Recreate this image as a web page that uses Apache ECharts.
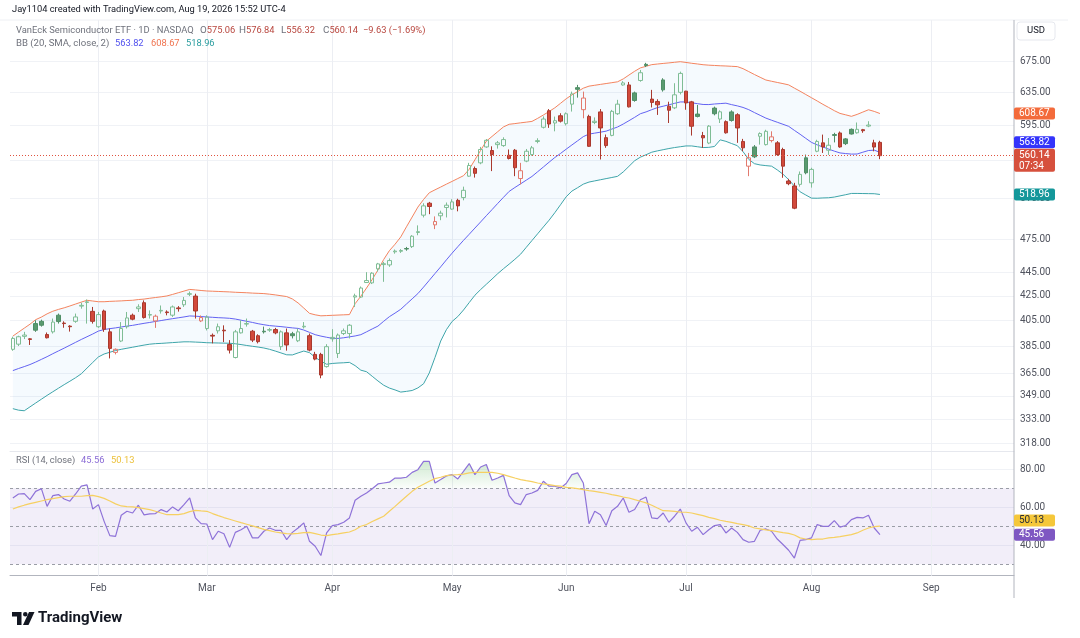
<!DOCTYPE html>
<html lang="en">
  <head>
    <meta charset="UTF-8" />
    <title>VanEck Semiconductor ETF · 1D</title>
    <script src="https://cdn.jsdelivr.net/npm/echarts@6.0.0/dist/echarts.min.js"></script>
    <style>
      html, body { margin: 0; padding: 0; background: #ffffff; }
      #chart { width: 1080px; height: 638px; }
    </style>
  </head>
  <body>
    <div id="chart"></div>
    <script>
      // daily bars, Jan 9 2026 .. Aug 19 2026 (153 sessions)
      const opens = [
        382.5, 386.4, 392.4, 390.5, 402.4, 404.2, 393.8, 395.9, 409.1, 402.8,
        400.4, 404.2, 416.5, 419.5, 412.2, 399.9, 412.5, 395.9, 380.2, 388.8,
        399.9, 409.1, 414.4, 419.3, 409.2, 404.5, 412.5, 411.7, 409.1, 415.0,
        417.6, 426.3, 424.8, 404.5, 398.5, 393.2, 396.7, 397.2, 386.2, 376.4,
        395.1, 402.0, 396.4, 392.9, 396.4, 397.2, 397.7, 384.5, 395.1, 394.4,
        389.0, 399.8, 392.9, 378.7, 378.7, 369.7, 390.5, 379.4, 394.6, 394.6,
        424.0, 424.0, 436.3, 436.0, 448.2, 452.0, 451.7, 463.5, 464.0, 466.5,
        468.3, 481.5, 498.2, 510.1, 488.8, 497.6, 505.8, 504.2, 513.0, 515.8,
        538.0, 546.2, 552.3, 569.9, 565.9, 572.5, 571.4, 560.6, 566.2, 535.5,
        554.2, 561.4, 576.0, 592.4, 612.0, 597.4, 606.0, 596.6, 620.0, 640.5,
        613.3, 605.2, 598.0, 610.6, 580.4, 583.0, 608.4, 643.9, 643.9, 633.9,
        649.6, 670.6, 626.2, 623.3, 650.3, 617.5, 615.5, 634.6, 636.1, 622.8,
        608.0, 582.8, 574.3, 615.2, 602.1, 599.0, 610.6, 607.2, 576.1, 548.7,
        569.9, 582.0, 572.5, 577.1, 574.5, 567.0, 532.9, 527.7, 529.4, 557.8,
        531.0, 565.1, 574.5, 566.2, 583.9, 585.8, 579.0, 590.0, 586.0, 589.6,
        593.8, 574.5, 575.06
      ]
      const highs = [
        392.1, 392.9, 395.9, 391.0, 405.0, 405.5, 395.4, 406.4, 410.4, 404.2,
        401.1, 410.4, 419.3, 422.0, 415.8, 411.7, 413.6, 398.5, 383.2, 403.6,
        411.7, 410.4, 418.0, 421.2, 413.0, 409.6, 417.0, 413.0, 417.0, 416.5,
        424.0, 428.6, 426.8, 408.9, 409.0, 394.6, 402.4, 401.0, 389.5, 397.4,
        405.0, 406.4, 397.4, 394.0, 400.0, 399.0, 399.0, 397.0, 398.5, 395.9,
        398.5, 403.6, 394.6, 380.6, 379.9, 386.4, 398.0, 394.6, 398.5, 402.0,
        426.8, 432.9, 445.3, 445.3, 453.5, 454.4, 457.5, 465.6, 466.0, 468.0,
        479.0, 488.3, 510.0, 511.4, 497.0, 502.6, 510.8, 514.1, 514.6, 527.0,
        552.3, 548.3, 569.9, 578.8, 570.6, 576.6, 580.8, 567.0, 567.6, 552.3,
        567.6, 571.0, 579.7, 605.2, 614.0, 605.0, 609.0, 610.0, 635.5, 644.0,
        635.5, 607.2, 604.0, 614.0, 584.0, 613.0, 625.3, 648.7, 647.7, 635.5,
        663.2, 672.6, 637.7, 626.0, 652.5, 623.0, 646.1, 661.0, 636.5, 624.0,
        619.0, 587.0, 595.0, 617.0, 612.5, 600.5, 612.5, 609.0, 579.0, 563.2,
        572.0, 586.5, 589.5, 587.7, 576.5, 569.0, 535.2, 531.0, 543.0, 561.4,
        547.0, 578.0, 583.9, 580.0, 586.0, 587.5, 580.0, 591.0, 598.0, 590.5,
        599.5, 578.0, 576.84
      ]
      const lows = [
        381.4, 385.0, 390.3, 385.8, 395.9, 400.0, 390.8, 394.6, 402.4, 399.1,
        396.1, 403.0, 414.4, 402.4, 402.4, 399.0, 395.9, 375.7, 378.7, 388.0,
        398.5, 405.0, 411.7, 406.4, 406.4, 399.0, 410.4, 409.0, 407.7, 412.0,
        415.8, 424.8, 406.4, 403.6, 397.0, 387.0, 394.6, 388.0, 379.4, 375.7,
        394.6, 400.0, 388.0, 387.0, 394.6, 395.9, 394.0, 382.0, 381.5, 390.8,
        388.0, 398.5, 381.0, 374.3, 361.3, 369.0, 388.3, 376.0, 393.4, 390.8,
        415.8, 423.4, 436.0, 435.0, 445.8, 436.9, 450.0, 461.8, 462.5, 464.5,
        467.0, 478.9, 496.0, 499.2, 484.7, 493.3, 496.0, 503.5, 502.0, 513.0,
        537.4, 536.5, 550.8, 568.9, 543.4, 568.0, 570.0, 556.0, 538.0, 529.4,
        553.0, 560.0, 574.0, 591.0, 591.7, 587.7, 598.0, 594.5, 611.0, 628.0,
        603.0, 570.0, 596.0, 556.0, 568.9, 582.0, 607.0, 643.0, 616.0, 623.0,
        648.0, 667.0, 616.0, 607.0, 635.5, 597.4, 614.0, 632.0, 613.2, 582.8,
        604.0, 568.9, 573.0, 606.5, 597.4, 585.0, 599.0, 574.5, 565.0, 538.0,
        557.5, 572.5, 571.5, 575.0, 560.0, 536.3, 528.5, 504.1, 527.0, 540.0,
        526.0, 564.0, 563.2, 561.0, 575.0, 569.0, 572.0, 584.0, 585.0, 586.0,
        592.5, 565.0, 556.32
      ]
      const closes = [
        390.8, 392.1, 393.4, 390.0, 397.2, 401.1, 391.3, 403.6, 404.0, 402.4,
        399.9, 407.7, 417.1, 420.0, 404.2, 409.6, 397.9, 383.2, 382.5, 398.5,
        406.9, 405.9, 415.8, 407.2, 409.6, 408.3, 413.0, 411.2, 415.8, 414.4,
        421.2, 426.8, 412.5, 407.2, 407.6, 392.6, 399.9, 396.7, 381.9, 395.9,
        398.5, 402.4, 389.5, 388.3, 395.9, 397.7, 395.1, 395.9, 385.8, 392.9,
        395.9, 400.3, 381.9, 375.2, 363.6, 384.5, 391.6, 393.4, 396.7, 401.1,
        425.0, 431.6, 438.0, 444.4, 452.6, 452.8, 455.6, 464.2, 464.7, 466.1,
        478.0, 482.3, 507.4, 506.8, 492.0, 500.2, 508.1, 511.4, 507.4, 523.2,
        549.4, 541.0, 567.0, 577.4, 561.4, 574.5, 578.2, 557.1, 547.0, 543.8,
        565.1, 568.9, 577.0, 602.1, 596.2, 600.1, 599.6, 608.4, 632.6, 638.4,
        627.5, 570.6, 599.5, 591.6, 571.4, 611.3, 620.0, 646.5, 616.7, 624.5,
        659.6, 669.0, 622.1, 619.2, 637.7, 612.6, 631.5, 658.7, 621.5, 593.6,
        605.2, 580.2, 593.7, 608.4, 610.7, 586.0, 600.4, 591.6, 568.9, 557.8,
        558.9, 585.1, 587.7, 581.3, 561.4, 548.7, 530.1, 505.1, 539.9, 541.6,
        545.2, 576.1, 569.9, 571.8, 583.0, 569.9, 573.6, 584.6, 590.0, 588.4,
        595.0, 569.77, 560.14
      ]

      // Bollinger Bands (20, SMA, close, 2)
      const bbUpper = [
        392.6, 395.7, 398.8, 401.9, 405.5, 407.6, 410.2, 412.3, 413.8, 415.1,
        416.6, 418.2, 419.8, 421.3, 420.7, 420.1, 420.1, 420.4, 420.6, 420.8,
        421.1, 421.3, 421.9, 422.3, 423.0, 423.6, 424.2, 424.9, 426.2, 427.6,
        429.0, 430.4, 430.0, 429.5, 429.1, 428.9, 428.7, 428.5, 428.3, 428.0,
        427.8, 427.6, 427.3, 427.1, 426.9, 426.4, 425.8, 425.1, 424.4, 422.4,
        419.1, 414.9, 410.6, 409.4, 408.6, 408.8, 409.0, 409.2, 409.4, 409.6,
        418.5, 424.7, 431.6, 439.0, 447.2, 456.5, 464.5, 470.5, 477.3, 486.9,
        496.4, 506.2, 513.9, 520.7, 523.7, 526.6, 529.6, 532.5, 535.5, 538.5,
        545.4, 555.6, 566.1, 576.4, 581.8, 587.3, 592.8, 595.9, 596.7, 597.6,
        598.4, 599.3, 602.9, 606.9, 611.1, 615.5, 621.0, 626.6, 631.4, 635.6,
        639.8, 642.4, 643.5, 644.6, 645.7, 646.8, 647.9, 651.6, 656.6, 661.5,
        665.9, 668.0, 670.2, 671.0, 671.8, 672.5, 673.3, 674.1, 673.1, 672.0,
        671.1, 670.1, 669.5, 669.1, 668.7, 668.4, 668.0, 667.6, 664.9, 661.1,
        657.3, 653.7, 650.2, 648.6, 647.1, 645.6, 644.0, 639.9, 636.0, 631.9,
        627.9, 623.9, 619.8, 616.0, 612.1, 608.8, 607.1, 605.3, 607.6, 610.4,
        613.2, 611.2, 608.67
      ]
      const bbBasis = [
        366.8, 368.3, 369.7, 371.2, 373.0, 375.0, 377.0, 379.2, 381.3, 383.4,
        385.6, 387.8, 390.0, 392.1, 394.2, 396.5, 397.7, 398.4, 399.0, 399.7,
        400.4, 401.0, 401.8, 402.6, 403.3, 404.1, 404.8, 405.6, 406.3, 407.0,
        407.7, 408.5, 408.3, 408.0, 407.7, 407.4, 407.1, 406.9, 406.6, 406.0,
        405.1, 404.2, 403.3, 402.3, 401.5, 400.8, 400.4, 400.0, 399.5, 399.0,
        398.6, 397.3, 395.5, 393.7, 392.6, 391.7, 390.9, 390.8, 391.3, 392.0,
        392.7, 393.7, 395.9, 398.2, 400.4, 404.2, 407.9, 410.8, 413.9, 418.2,
        422.5, 426.9, 432.4, 438.2, 444.1, 450.0, 456.2, 462.3, 468.2, 474.1,
        479.8, 485.7, 491.6, 497.7, 503.7, 509.9, 516.0, 522.1, 526.1, 529.9,
        533.8, 537.7, 542.7, 547.8, 553.0, 558.1, 562.6, 567.4, 572.1, 576.8,
        581.6, 584.5, 585.6, 586.7, 587.9, 590.3, 592.7, 596.2, 600.1, 604.1,
        608.4, 610.6, 613.3, 615.8, 617.5, 619.2, 621.0, 622.7, 622.7, 621.7,
        620.6, 619.6, 619.5, 620.2, 620.7, 621.2, 619.4, 617.9, 616.0, 613.3,
        609.8, 606.5, 603.2, 600.7, 598.3, 595.9, 593.5, 588.8, 584.3, 579.6,
        575.0, 572.2, 569.8, 567.5, 565.2, 563.2, 562.5, 561.9, 562.0, 564.0,
        565.9, 566.3, 563.82
      ]
      const bbLower = [
        340.3, 339.3, 338.9, 341.5, 344.1, 346.7, 349.3, 351.8, 354.3, 356.8,
        359.2, 361.7, 364.5, 368.6, 372.7, 376.8, 379.0, 380.3, 381.6, 382.5,
        383.3, 384.1, 384.9, 385.7, 386.4, 386.8, 387.0, 387.3, 387.6, 387.9,
        388.2, 388.2, 388.0, 387.8, 387.5, 387.4, 387.3, 387.2, 387.1, 386.7,
        386.1, 385.4, 384.8, 384.2, 383.5, 382.5, 381.2, 379.8, 378.4, 378.3,
        379.8, 381.2, 380.0, 376.5, 373.7, 371.4, 372.0, 372.3, 372.5, 372.8,
        370.4, 367.1, 366.0, 362.7, 359.4, 356.4, 354.4, 353.1, 351.6, 352.1,
        352.7, 354.5, 357.4, 365.1, 376.4, 388.8, 397.6, 404.1, 408.0, 413.3,
        419.4, 425.5, 430.3, 434.8, 439.3, 444.0, 448.3, 452.4, 456.7, 461.3,
        467.6, 473.9, 480.3, 486.8, 493.3, 500.6, 508.5, 516.6, 522.4, 525.9,
        529.6, 531.8, 533.0, 534.2, 535.4, 536.6, 537.8, 542.5, 548.5, 554.6,
        558.5, 561.2, 564.0, 565.5, 566.8, 568.1, 569.2, 570.1, 571.0, 571.0,
        570.1, 569.2, 569.4, 570.4, 577.9, 576.2, 573.7, 571.3, 564.6, 556.1,
        551.4, 550.0, 549.3, 548.7, 544.7, 540.1, 534.3, 527.6, 521.7, 518.4,
        515.2, 515.1, 515.4, 515.6, 516.3, 517.5, 518.7, 520.0, 520.0, 519.9,
        519.8, 519.7, 518.96
      ]

      // RSI (14, close) and its moving average
      const rsi = [
        64.9, 67.0, 67.2, 64.0, 68.4, 69.8, 60.5, 66.1, 66.7, 64.4,
        63.2, 67.0, 71.1, 71.8, 59.1, 61.4, 52.6, 45.1, 44.7, 55.8,
        57.9, 57.0, 61.1, 56.0, 56.5, 56.7, 58.8, 57.5, 60.2, 58.2,
        61.4, 64.9, 54.4, 51.4, 51.2, 43.0, 47.4, 46.1, 38.9, 46.8,
        48.2, 50.0, 43.9, 43.9, 47.4, 49.1, 47.9, 47.9, 43.0, 46.8,
        49.1, 51.8, 42.1, 39.5, 34.6, 46.5, 50.4, 50.9, 52.1, 54.4,
        63.7, 65.8, 67.5, 69.8, 72.3, 72.8, 73.2, 75.4, 75.4, 75.8,
        78.4, 79.8, 84.2, 84.2, 72.8, 74.6, 76.5, 77.2, 74.9, 78.9,
        83.0, 77.2, 81.2, 82.5, 74.2, 75.4, 76.8, 66.1, 62.3, 61.4,
        66.7, 67.5, 68.9, 73.7, 71.1, 71.1, 70.2, 72.5, 77.2, 78.1,
        72.8, 51.4, 57.9, 56.1, 50.4, 58.2, 60.5, 64.9, 57.4, 58.8,
        64.0, 65.4, 54.4, 54.0, 57.0, 52.1, 55.3, 59.1, 51.8, 47.4,
        49.5, 45.6, 48.2, 50.4, 50.9, 46.5, 49.1, 46.8, 43.0, 41.6,
        42.1, 47.9, 48.6, 47.4, 43.3, 40.4, 37.4, 33.3, 42.6, 43.0,
        43.9, 50.9, 50.0, 50.0, 53.0, 49.6, 50.4, 53.5, 54.7, 54.4,
        55.8, 49.1, 45.56
      ]
      const rsiMa = [
        59.1, 60.2, 61.1, 61.9, 62.6, 63.3, 64.0, 64.6, 65.1, 65.6,
        65.8, 65.8, 65.8, 66.1, 66.3, 65.6, 64.7, 63.3, 61.8, 60.7,
        60.4, 60.2, 59.8, 59.3, 58.8, 57.9, 57.0, 56.1, 56.1, 56.1,
        56.7, 57.7, 58.4, 58.1, 57.9, 56.7, 55.6, 54.6, 53.7, 52.8,
        51.9, 51.1, 50.2, 49.3, 48.4, 47.7, 47.0, 46.5, 46.1, 46.0,
        46.3, 46.7, 46.8, 46.1, 45.4, 45.1, 45.6, 46.0, 46.5, 47.0,
        48.2, 50.0, 50.9, 52.5, 53.9, 55.3, 57.9, 60.5, 63.2, 65.8,
        68.4, 70.5, 72.1, 73.7, 75.1, 75.8, 76.7, 77.0, 77.2, 77.5,
        78.1, 78.4, 78.4, 78.4, 78.4, 77.9, 77.2, 76.3, 75.4, 74.6,
        74.0, 73.5, 72.8, 72.3, 71.9, 71.4, 71.1, 70.5, 70.2, 69.8,
        69.3, 68.8, 68.4, 67.9, 67.4, 66.7, 66.1, 65.4, 64.9, 64.0,
        63.2, 62.3, 61.1, 59.6, 58.2, 58.1, 57.9, 57.5, 57.4, 57.0,
        56.3, 55.6, 54.7, 54.0, 53.2, 52.6, 52.1, 51.4, 50.9, 50.2,
        49.1, 48.6, 48.1, 47.7, 47.2, 46.7, 46.3, 45.4, 43.9, 43.3,
        43.0, 43.2, 43.3, 43.9, 44.2, 44.6, 45.1, 45.6, 46.5, 47.9,
        49.1, 49.8, 50.13
      ]

      // axis ticks
      const priceTicks = [318, 333, 349, 365, 385, 405, 425, 445, 475, 515, 555, 595, 635, 675]
      const rsiTicks = [40, 60, 80]
      const rsiLevels = [70, 50, 30]
      const monthNames = ['Jan', 'Feb', 'Mar', 'Apr', 'May', 'Jun', 'Jul', 'Aug', 'Sep', 'Oct', 'Nov', 'Dec']

      // session calendar: weekdays minus exchange holidays, with empty slots to the right
      const holidays = ['2026-01-19', '2026-02-16', '2026-04-03', '2026-05-25', '2026-06-19', '2026-07-03', '2026-09-07']
      const slots = 176
      const dates = []
      for (let t = Date.UTC(2026, 0, 9); dates.length < slots; t += 86400000) {
        const d = new Date(t)
        const iso = d.toISOString().slice(0, 10)
        if (d.getUTCDay() === 0 || d.getUTCDay() === 6 || holidays.includes(iso)) continue
        dates.push(iso)
      }
      const monthStarts = new Set()
      dates.forEach((d, i) => {
        if (i > 0 && d.slice(5, 7) !== dates[i - 1].slice(5, 7)) monthStarts.add(i)
      })

      const FONT = 'Roboto, "Liberation Sans", sans-serif'
      const GRID_LINE = '#f0f2f6'
      const AXIS_TEXT = '#50535e'
      const last = closes.length - 1

      // hollow candles: body filled when close < open, colour by close vs previous close
      const candleData = closes.map((c, i) => {
        const o = opens[i]
        const rising = i === 0 || c >= closes[i - 1]
        const hollow = c > o
        let fill, edge
        if (rising) {
          edge = hollow ? '#7fbd95' : '#4f8e66'
          fill = hollow ? 'transparent' : '#5a9a70'
        } else {
          edge = hollow ? '#e27a6e' : '#a9392e'
          fill = hollow ? 'transparent' : '#d2493b'
        }
        return {
          value: [o, c, lows[i], highs[i]],
          itemStyle: { color: fill, color0: fill, borderColor: edge, borderColor0: edge },
        }
      })

      const monthLines = [...monthStarts].map(i => ({ xAxis: dates[i] }))

      const chart = echarts.init(document.getElementById('chart'))

      const option = {
        animation: false,
        backgroundColor: '#ffffff',
        grid: [
          { left: 10, right: 66, top: 20, height: 431 },
          { left: 10, right: 66, top: 452, height: 123.7 },
        ],
        xAxis: [
          {
            type: 'category', gridIndex: 0, data: dates, boundaryGap: true,
            axisLine: { show: true, lineStyle: { color: '#e6e8ee' } },
            axisTick: { show: false }, axisLabel: { show: false }, splitLine: { show: false },
          },
          {
            type: 'category', gridIndex: 1, data: dates, boundaryGap: true,
            axisLine: { show: true, lineStyle: { color: '#b2b5be' } },
            axisTick: { show: false }, splitLine: { show: false },
            axisLabel: {
              interval: idx => monthStarts.has(idx),
              formatter: v => monthNames[+v.slice(5, 7) - 1],
              color: AXIS_TEXT, fontSize: 10, fontFamily: FONT, margin: 8,
            },
          },
        ],
        yAxis: [
          {
            type: 'log', logBase: 10, gridIndex: 0, position: 'right',
            min: 313.07, max: 731.8,
            axisLine: { show: false },
            axisTick: { show: false, customValues: priceTicks },
            axisLabel: {
              customValues: priceTicks, formatter: v => v.toFixed(2),
              showMinLabel: true, showMaxLabel: true,
              color: AXIS_TEXT, fontSize: 10, fontFamily: FONT, margin: 6,
            },
            splitLine: { show: true, lineStyle: { color: GRID_LINE } },
          },
          {
            type: 'value', gridIndex: 1, position: 'right', min: 24, max: 89.1,
            axisLine: { show: false },
            axisTick: { show: false, customValues: rsiTicks },
            axisLabel: {
              customValues: rsiTicks, formatter: v => v.toFixed(2),
              showMinLabel: true, showMaxLabel: true,
              color: AXIS_TEXT, fontSize: 10, fontFamily: FONT, margin: 6,
            },
            splitLine: { show: true, lineStyle: { color: GRID_LINE } },
          },
        ],
        series: [
          {
            name: 'BB lower', type: 'line', xAxisIndex: 0, yAxisIndex: 0,
            data: bbLower, stack: 'bb', symbol: 'none', z: 2,
            lineStyle: { color: '#3ea5aa', width: 1 },
            markLine: {
              silent: true, symbol: ['none', 'none'], z: 1, label: { show: false },
              lineStyle: { color: '#eceef3', width: 1, type: 'solid' },
              data: monthLines,
            },
          },
          {
            name: 'BB upper', type: 'line', xAxisIndex: 0, yAxisIndex: 0,
            data: bbUpper.map((u, i) => +(u - bbLower[i]).toFixed(2)),
            stack: 'bb', symbol: 'none', z: 2,
            lineStyle: { color: '#f4845f', width: 1 },
            areaStyle: { color: 'rgba(33,150,243,0.06)' },
          },
          {
            name: 'BB basis', type: 'line', xAxisIndex: 0, yAxisIndex: 0,
            data: bbBasis, symbol: 'none', z: 2,
            lineStyle: { color: '#6363f2', width: 1 },
          },
          {
            name: 'SMH', type: 'candlestick', xAxisIndex: 0, yAxisIndex: 0,
            data: candleData, barWidth: 4, z: 3,
            itemStyle: { borderWidth: 1 },
            markLine: {
              silent: true, symbol: ['none', 'none'], label: { show: false },
              lineStyle: { color: '#e0533f', width: 1, type: [1, 2] },
              data: [{ yAxis: closes[last] }],
            },
          },
          {
            name: 'RSI overbought', type: 'line', xAxisIndex: 1, yAxisIndex: 1,
            data: rsi.map(v => Math.max(v, 70)), symbol: 'none', z: 2,
            lineStyle: { width: 0, opacity: 0 },
            areaStyle: {
              origin: 70,
              color: new echarts.graphic.LinearGradient(0, 0, 0, 1, [
                { offset: 0, color: 'rgba(76,175,80,0.38)' },
                { offset: 1, color: 'rgba(76,175,80,0.03)' },
              ]),
            },
          },
          {
            name: 'RSI', type: 'line', xAxisIndex: 1, yAxisIndex: 1,
            data: rsi, symbol: 'none', z: 3,
            lineStyle: { color: '#8e72d8', width: 1.2 },
            markArea: {
              silent: true, z: 0.5,
              itemStyle: { color: 'rgba(126,87,194,0.1)' },
              data: [[{ yAxis: 30 }, { yAxis: 70 }]],
            },
            markLine: {
              silent: true, symbol: ['none', 'none'], z: 1, label: { show: false },
              data: [
                ...rsiLevels.map(v => ({ yAxis: v, lineStyle: { color: '#9a9da6', width: 1, type: [3, 3] } })),
                ...monthLines.map(m => ({ ...m, lineStyle: { color: '#eceef3', width: 1, type: 'solid' } })),
              ],
            },
          },
          {
            name: 'RSI MA', type: 'line', xAxisIndex: 1, yAxisIndex: 1,
            data: rsiMa, symbol: 'none', z: 3,
            lineStyle: { color: '#f6d061', width: 1.2 },
          },
        ],
      }

      chart.setOption(option)

      // --- texts, tags and frame ---
      const axisX = 1014
      const TOP = 100
      const fmt = v => v.toFixed(2)
      const minus = s => s.replace('-', '\u2212')
      const change = closes[last] - closes[last - 1]
      const changePct = (change / closes[last - 1]) * 100

      const redText = '#b8463e'
      const legendGray = '#6f727c'

      function txt(x, y, text, fill, size, extra) {
        return {
          type: 'text', x, y, z: TOP, silent: true,
          style: Object.assign({ text, fill, font: `${size || 9.3}px ${FONT}`, verticalAlign: 'middle' }, extra || {}),
        }
      }

      // "O575.06" style: grey letter, red value
      function ohlc(x, letter, value) {
        return txt(x, 31, `{k|${letter}}{v|${value}}`, redText, 9.3, {
          rich: {
            k: { fill: legendGray, font: `9.8px ${FONT}` },
            v: { fill: redText, font: `9.3px ${FONT}` },
          },
        })
      }

      function tag(yAxisIndex, value, lines, bg, fg, shift) {
        const y = chart.convertToPixel({ yAxisIndex }, value) + (shift || 0)
        const h = lines.length > 1 ? 23 : 12
        const top = lines.length > 1 ? -7 : -6
        return {
          type: 'group', x: axisX, y, z: TOP, silent: true,
          children: [
            { type: 'rect', z: TOP, shape: { x: 0, y: top, width: 41, height: h, r: 2 }, style: { fill: bg } },
            ...lines.map((l, k) => Object.assign(txt(5, k * 11, l, fg, 10), { z: TOP + 1 })),
          ],
        }
      }

      const graphics = [
        // frame lines
        { type: 'line', silent: true, z: TOP, shape: { x1: 0, y1: 20, x2: 1068, y2: 20 }, style: { stroke: '#eef0f4', lineWidth: 1 } },
        { type: 'line', silent: true, z: TOP, shape: { x1: axisX, y1: 20, x2: axisX, y2: 598 }, style: { stroke: '#b2b5be', lineWidth: 1 } },
        // header
        txt(12, 10, 'Jay1104 created with TradingView.com, Aug 19, 2026 15:52 UTC-4', '#131722', 9.3),
        // price legend
        txt(16, 31, 'VanEck Semiconductor ETF \u00b7 1D \u00b7 NASDAQ', legendGray, 9.4),
        ohlc(200, 'O', fmt(opens[last])),
        ohlc(239, 'H', fmt(highs[last])),
        ohlc(281, 'L', fmt(lows[last])),
        ohlc(323, 'C', fmt(closes[last])),
        txt(363, 31, minus(fmt(change)) + ' (' + minus(fmt(changePct)) + '%)', redText, 9.3),
        txt(16, 43.5, 'BB (20, SMA, close, 2)', legendGray, 9.6),
        txt(115, 43.5, fmt(bbBasis[last]), '#5151ee'),
        txt(151, 43.5, fmt(bbUpper[last]), '#f07450'),
        txt(186, 43.5, fmt(bbLower[last]), '#2a9d9f'),
        // RSI legend
        txt(16, 461, 'RSI (14, close)', legendGray),
        txt(81, 461, fmt(rsi[last]), '#8a6bd6'),
        txt(111, 461, fmt(rsiMa[last]), '#ecc13a'),
        // currency box
        { type: 'rect', silent: true, z: TOP, shape: { x: 1017, y: 22, width: 38, height: 18, r: 3 }, style: { fill: '#ffffff', stroke: '#e6e8ee' } },
        Object.assign(txt(1036, 31, 'USD', '#131722', 9.5, { align: 'center' }), { z: TOP + 1 }),
        // axis tags
        tag(0, bbUpper[last], [fmt(bbUpper[last])], '#f36b3b', '#ffffff', 0),
        tag(0, bbBasis[last], [fmt(bbBasis[last])], '#3434fb', '#ffffff', -10),
        tag(0, closes[last], [fmt(closes[last]), '07:34'], '#d6503d', '#ffffff', 0),
        tag(0, bbLower[last], [fmt(bbLower[last])], '#14979a', '#ffffff', 0),
        tag(1, rsiMa[last], [fmt(rsiMa[last])], '#f5c73a', '#2a2e39', -5.5),
        tag(1, rsi[last], [fmt(rsi[last])], '#7e57c2', '#ffffff', 0),
        // TradingView mark
        { type: 'polygon', silent: true, z: TOP, shape: { points: [[12, 612], [21.5, 612], [21.5, 625], [17, 625], [17, 616.5], [12, 616.5]] }, style: { fill: '#131722' } },
        { type: 'circle', silent: true, z: TOP, shape: { cx: 25.3, cy: 614.3, r: 2.3 }, style: { fill: '#131722' } },
        { type: 'polygon', silent: true, z: TOP, shape: { points: [[29, 612], [34.5, 612], [28.5, 625], [23, 625]] }, style: { fill: '#131722' } },
        txt(38, 618.5, 'TradingView', '#131722', 15, { font: `bold 15px ${FONT}` }),
      ]

      chart.setOption({ graphic: { elements: graphics } })
    </script>
  </body>
</html>
